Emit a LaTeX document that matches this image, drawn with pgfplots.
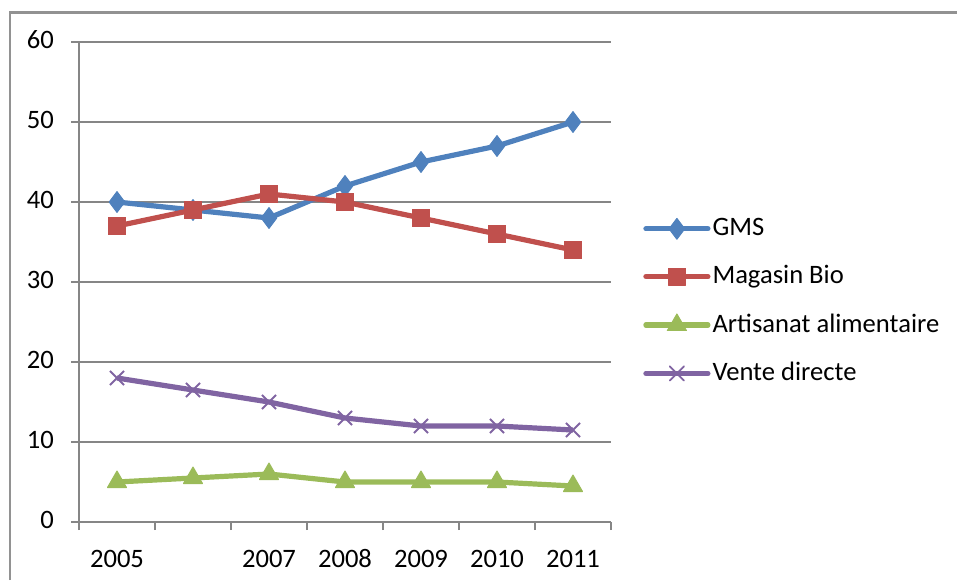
\documentclass[border=0pt]{standalone}
\usepackage{pgfplots}
\pgfplotsset{compat=1.18}
\usepackage{fontspec}
\setmainfont{Carlito}
\definecolor{gms}{HTML}{4F81BD}
\definecolor{bio}{HTML}{C0504D}
\definecolor{art}{HTML}{9BBB59}
\definecolor{vd}{HTML}{8064A2}
\definecolor{gridc}{HTML}{868686}
\begin{document}
\fontsize{13.3}{16}\selectfont
\begin{tikzpicture}[x=1pt,y=1pt]
\path[use as bounding box] (0,0) rectangle (478.5,290);
\draw[gridc!90,line width=1.1pt] (5,0) -- (5,283.7) -- (478.5,283.7);
\begin{axis}[
  at={(39.5pt,29pt)}, anchor=south west,
  scale only axis, width=266pt, height=240pt,
  xmin=-0.5, xmax=6.5, ymin=0, ymax=60,
  ytick={0,10,...,60},
  xtick={0,...,6},
  xticklabels={2005,,2007,2008,2009,2010,2011},
  minor xtick={-0.5,0.5,...,6.5},
  major x tick style={draw=none},
  minor tick length=4pt, major tick length=4pt,
  tick align=outside,
  ytick pos=left, xtick pos=bottom,
  ymajorgrids,
  grid style={gridc, line width=1pt},
  axis line style={gridc, line width=1pt},
  every tick/.style={gridc, line width=1pt},
  axis x line*=bottom, axis y line*=left,
  every axis plot/.append style={line width=2.6pt, line join=round},
  tick label style={font=\fontsize{13.3}{16}\selectfont, black},
  typeset ticklabels with strut,
  yticklabel style={xshift=-4pt},
  xticklabel style={yshift=-3pt},
  /pgf/number format/assume math mode=true,
  clip=false,
  legend cell align=left,
  legend style={draw=none, fill=none, at={(1.06,0.4595)}, anchor=west,
    font=\fontsize{13.3}{16}\selectfont, row sep=11pt,
    inner sep=0pt, nodes={inner sep=1pt}},
  legend image code/.code={\draw[mark repeat=2,mark phase=2,line cap=round] plot coordinates {(0pt,0pt)(15.5pt,0pt)(31pt,0pt)};},
]
\addplot[gms, mark=diamond*, mark size=5.2pt, mark options={solid, fill=gms, draw=gms, line width=0.5pt}]
  coordinates {(0,40)(1,39)(2,38)(3,42)(4,45)(5,47)(6,50)};
\addlegendentry{GMS}
\addplot[bio, mark=square*, mark size=4.3pt, mark options={solid, fill=bio, draw=bio, line width=0.5pt}]
  coordinates {(0,37)(1,39)(2,41)(3,40)(4,38)(5,36)(6,34)};
\addlegendentry{Magasin Bio}
\addplot[art, mark=triangle*, mark size=5.5pt, mark options={solid, fill=art, draw=art, line width=0.5pt}]
  coordinates {(0,5)(1,5.5)(2,6)(3,5)(4,5)(5,5)(6,4.5)};
\addlegendentry{Artisanat alimentaire}
\addplot[vd, mark=x, mark size=5pt, mark options={solid, draw=vd, line width=0.9pt}]
  coordinates {(0,18)(1,16.5)(2,15)(3,13)(4,12)(5,12)(6,11.5)};
\addlegendentry{Vente directe}
\end{axis}
\end{tikzpicture}
\end{document}
